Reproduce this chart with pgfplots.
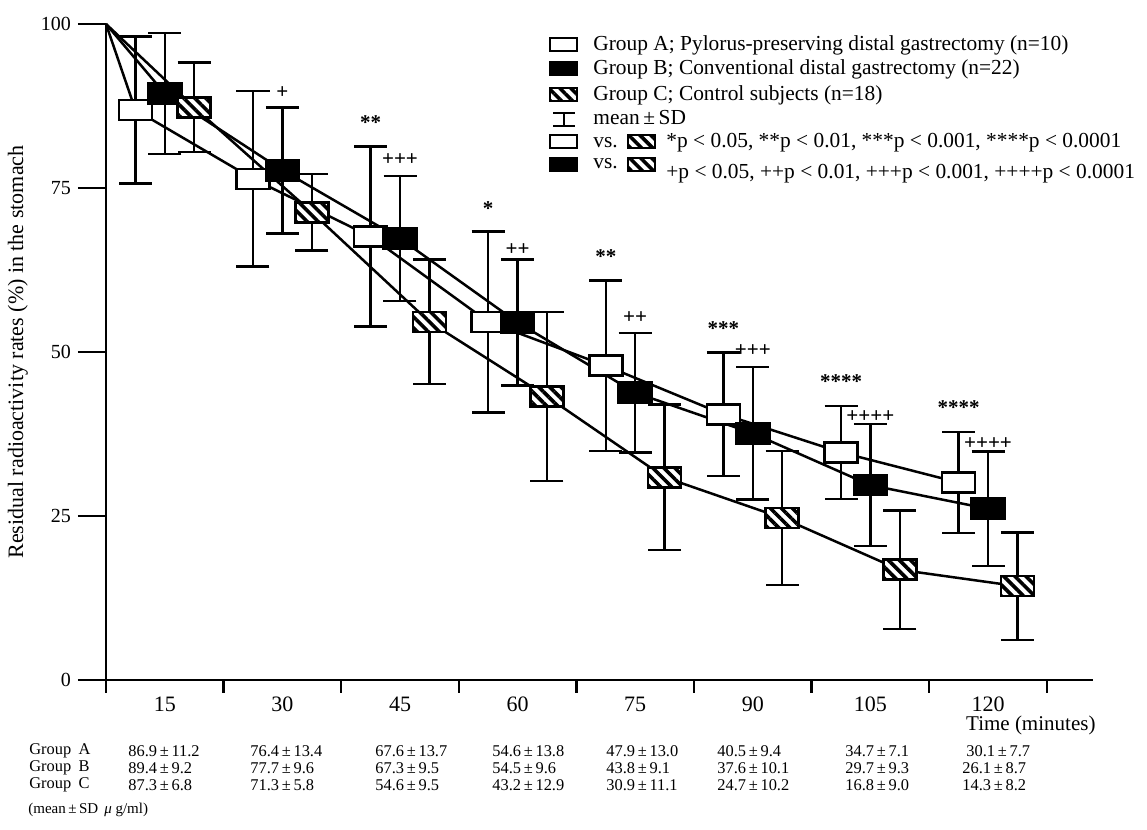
\documentclass[border=0pt]{standalone}
\usepackage{fontspec}
\setmainfont{Liberation Serif}
\usepackage{pgfplots}
\usepackage{pgfplotstable}
\pgfplotsset{compat=1.18}
\usetikzlibrary{patterns.meta}

% rectangular box marker (33x20 px in the reference)
\pgfdeclareplotmark{rbox}{%
  \pgfpathrectangle{\pgfqpoint{-8.25pt}{-5pt}}{\pgfqpoint{16.5pt}{10pt}}%
  \pgfusepathqfillstroke}
\tikzset{hatch/.style={pattern={Lines[angle=-45,distance=3.9pt,line width=1.8pt]}}}
\pgfplotsset{sdbars/.style={only marks, mark=*, mark size=0pt,
  skip coords between index={0}{1},
  error bars/.cd, y dir=both, y explicit, error mark=-,
  error bar style={line width=1.25pt, black},
  error mark options={rotate=90, line width=1.25pt, mark size=8.25pt, black}}}

% first row is the common start point at the top of the y axis
\pgfplotstableread{
xA   A    Asd  xB  B    Bsd  xC   C    Csd
0.5  100  0    0.5 100  0    0.5  100  0
0.75 86.9 11.2 1   89.4 9.2  1.25 87.3 6.8
1.75 76.4 13.4 2   77.7 9.6  2.25 71.3 5.8
2.75 67.6 13.7 3   67.3 9.5  3.25 54.6 9.5
3.75 54.6 13.8 4   54.5 9.6  4.25 43.2 12.9
4.75 47.9 13.0 5   43.8 9.1  5.25 30.9 11.1
5.75 40.5 9.4  6   37.6 10.1 6.25 24.7 10.2
6.75 34.7 7.1  7   29.7 9.3  7.25 16.8 9.0
7.75 30.1 7.7  8   26.1 8.7  8.25 14.3 8.2
}\data

\begin{document}
\begin{tikzpicture}
\useasboundingbox (-53pt,-75pt) rectangle (520.5pt,340pt);
\begin{axis}[
  at={(0pt,0pt)}, anchor=south west,
  scale only axis, width=493.5pt, height=328pt,
  xmin=0.5, xmax=8.893, ymin=0, ymax=100,
  axis x line*=bottom, axis y line*=left,
  axis line style={line width=1.3pt,-},
  clip=false,
  tick align=outside, major tick length=14pt, minor tick length=6.5pt,
  ytick={0,25,50,75,100},
  xtick={1,...,8}, xticklabels={15,30,45,60,75,90,105,120},
  minor xtick={0.5,1.5,...,8.5},
  major x tick style={draw=none},
  minor x tick style={line width=1.2pt,black},
  major y tick style={line width=1.1pt,black},
  /pgf/number format/assume math mode=true,
  yticklabel style={font=\fontsize{10}{12}\selectfont},
  xticklabel style={font=\fontsize{11}{13}\selectfont, yshift=9pt},
  ylabel={Residual radioactivity rates (\%) in the stomach},
  ylabel style={at={(axis description cs:-0.0892,0.5)}, anchor=center,
    font=\fontsize{11}{13}\selectfont},
  xlabel={Time (minutes)},
  xlabel style={at={(axis description cs:0.937,0)}, anchor=center,
    yshift=-22.5pt, font=\fontsize{10.5}{12}\selectfont},
  every axis plot/.append style={black},
]
% error bars first, so that the boxes hide their middle
\addplot[sdbars] table[x=xA, y=A, y error=Asd] {\data};
\addplot[sdbars] table[x=xB, y=B, y error=Bsd] {\data};
\addplot[sdbars] table[x=xC, y=C, y error=Csd] {\data};

% boxes
\addplot[only marks, mark=rbox, skip coords between index={0}{1},
  mark options={fill=white, draw=black, line width=1.3pt}]
  table[x=xA, y=A] {\data};
\addplot[only marks, mark=rbox, skip coords between index={0}{1},
  mark options={fill=black, draw=black, line width=1.3pt}]
  table[x=xB, y=B] {\data};
\addplot[only marks, mark=rbox, skip coords between index={0}{1},
  mark options={fill=white, draw=black, line width=1.3pt}]
  table[x=xC, y=C] {\data};
\addplot[only marks, mark=rbox, skip coords between index={0}{1},
  mark options={hatch, draw=black, line width=1.3pt}]
  table[x=xC, y=C] {\data};

% mean lines on top
\addplot[line width=1.25pt, mark=none] table[x=xA, y=A] {\data};
\addplot[line width=1.25pt, mark=none] table[x=xB, y=B] {\data};
\addplot[line width=1.25pt, mark=none] table[x=xC, y=C] {\data};

% significance marks
\begin{scope}[every node/.style={font=\bfseries\fontsize{10.5}{12}\selectfont, inner sep=0pt}]
\node at (axis cs:2.75,85.0) {**};
\node at (axis cs:3.75,71.8) {*};
\node at (axis cs:4.75,64.6) {**};
\node at (axis cs:5.75,53.6) {***};
\node at (axis cs:6.75,45.5) {****};
\node at (axis cs:7.75,41.5) {****};
\node at (axis cs:2,89.6) {+};
\node at (axis cs:3,79.4) {+++};
\node at (axis cs:4,65.6) {++};
\node at (axis cs:5,55.3) {++};
\node at (axis cs:6,50.2) {+++};
\node at (axis cs:7,40.2) {++++};
\node at (axis cs:8,36.0) {++++};
\end{scope}
\end{axis}

% legend
\begin{scope}[every node/.style={font=\fontsize{10.7}{12}\selectfont, inner sep=0pt, anchor=west, text height=1.5ex, text depth=.25ex},
  lb/.style={draw, line width=1pt, minimum width=13.5pt, minimum height=6.5pt, inner sep=0pt, anchor=center, text height=, text depth=}]
\node[lb, fill=white] at (228.75pt,317.5pt) {};
\node at (243.5pt,317.5pt) {Group A; Pylorus-preserving distal gastrectomy (n=10)};
\node[lb, fill=black] at (228.75pt,305.5pt) {};
\node at (243.5pt,305.5pt) {Group B; Conventional distal gastrectomy (n=22)};
\node[lb, hatch, preaction={fill=white}] at (228.75pt,292.5pt) {};
\node at (243.5pt,292.5pt) {Group C; Control subjects (n=18)};
\draw[line width=1pt] (229pt,277pt) -- (229pt,283.5pt)
  (223.5pt,277pt) -- (234.5pt,277pt) (223.5pt,283.5pt) -- (234.5pt,283.5pt);
\node at (243.5pt,280.5pt) {mean\,±\,SD};
\node[lb, fill=white] at (228.75pt,269pt) {};
\node at (243.5pt,269pt) {vs.};
\node[lb, hatch, preaction={fill=white}] at (267.5pt,269pt) {};
\node at (280pt,269pt) {*p < 0.05, **p < 0.01, ***p < 0.001, ****p < 0.0001};
\node[lb, fill=black] at (228.75pt,257.5pt) {};
\node at (243.5pt,258.5pt) {vs.};
\node[lb, hatch, preaction={fill=white}] at (267.5pt,257.5pt) {};
\node at (280pt,253.5pt) {+p < 0.05, ++p < 0.01, +++p < 0.001, ++++p < 0.0001};
\end{scope}

% values below the axis
\begin{scope}[every node/.style={font=\fontsize{8.2}{9}\selectfont, inner sep=0pt, anchor=west}]
\node at (-38.5pt,-35.5pt) {Group\hspace{0.45em}A};
\node at (-38.5pt,-44pt) {Group\hspace{0.45em}B};
\node at (-38.5pt,-52.5pt) {Group\hspace{0.45em}C};
\node at (11pt,-35.5pt) {86.9\,±\,11.2};
\node at (72pt,-35.5pt) {76.4\,±\,13.4};
\node at (134.5pt,-35.5pt) {67.6\,±\,13.7};
\node at (193pt,-35.5pt) {54.6\,±\,13.8};
\node at (250pt,-35.5pt) {47.9\,±\,13.0};
\node at (305.5pt,-35.5pt) {40.5\,±\,9.4};
\node at (369.5pt,-35.5pt) {34.7\,±\,7.1};
\node at (430pt,-35.5pt) {30.1\,±\,7.7};
\node at (11pt,-44pt) {89.4\,±\,9.2};
\node at (72pt,-44pt) {77.7\,±\,9.6};
\node at (134.5pt,-44pt) {67.3\,±\,9.5};
\node at (193pt,-44pt) {54.5\,±\,9.6};
\node at (250pt,-44pt) {43.8\,±\,9.1};
\node at (305.5pt,-44pt) {37.6\,±\,10.1};
\node at (369.5pt,-44pt) {29.7\,±\,9.3};
\node at (428pt,-44pt) {26.1\,±\,8.7};
\node at (11pt,-52.5pt) {87.3\,±\,6.8};
\node at (72pt,-52.5pt) {71.3\,±\,5.8};
\node at (134.5pt,-52.5pt) {54.6\,±\,9.5};
\node at (193pt,-52.5pt) {43.2\,±\,12.9};
\node at (250pt,-52.5pt) {30.9\,±\,11.1};
\node at (305.5pt,-52.5pt) {24.7\,±\,10.2};
\node at (369.5pt,-52.5pt) {16.8\,±\,9.0};
\node at (428pt,-52.5pt) {14.3\,±\,8.2};
\node[font=\fontsize{7.5}{9}\selectfont] at (-39pt,-65pt) {(mean\,±\,SD\hspace{0.4em}\textit{μ} g/ml)};
\end{scope}
\end{tikzpicture}
\end{document}
